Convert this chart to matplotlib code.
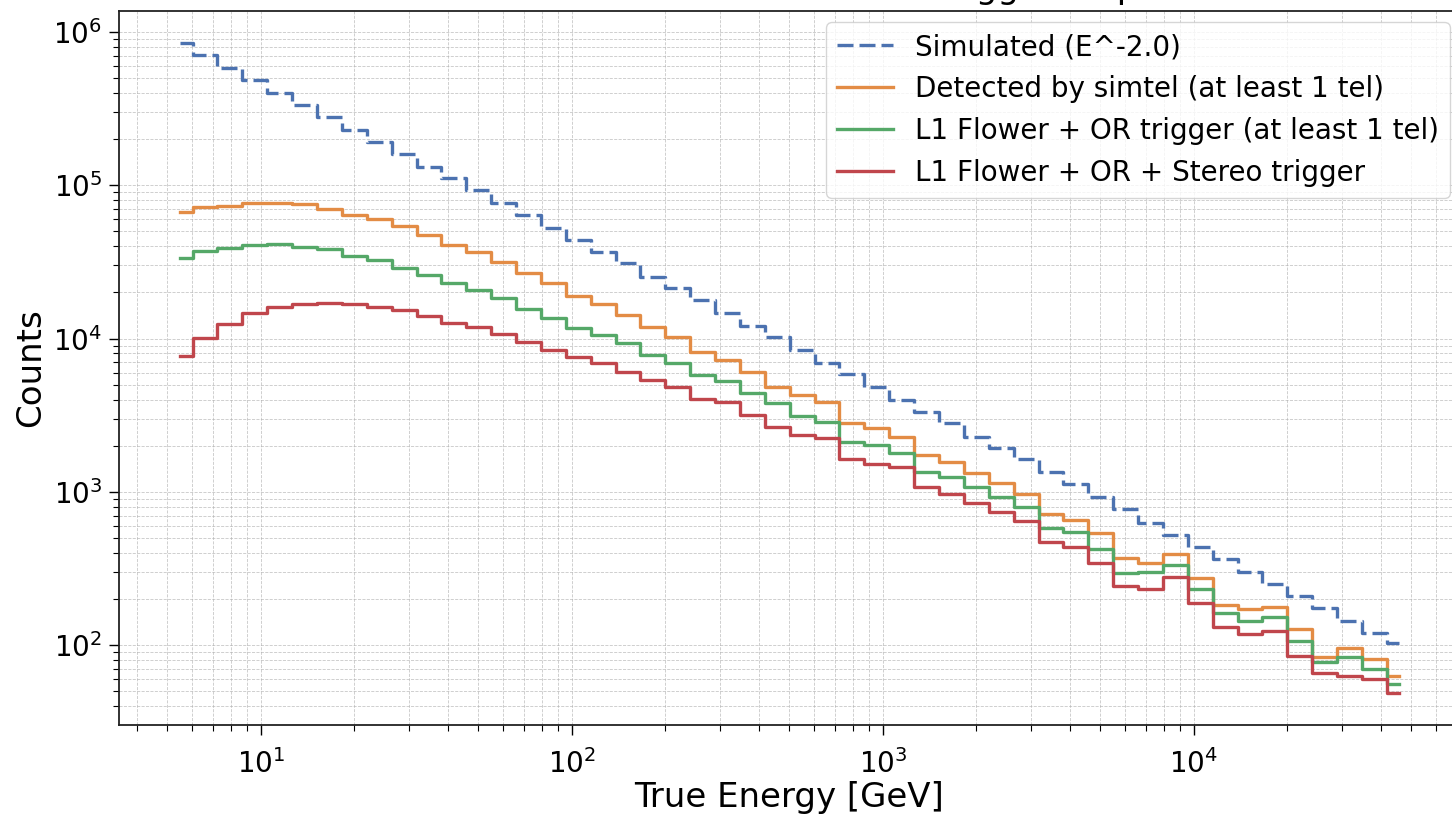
#!/usr/bin/python
# Energy distribution of the simulated events and of the events that pass
# the different trigger steps (step histogram, log-log).

import numpy as np
import matplotlib
matplotlib.use("Agg")
import matplotlib.pyplot as plt

# energy binning: 50 log bins between 5 GeV and 50 TeV
e_min, e_max, n_bins = 5.0, 5.0e4, 50

# counts per energy bin
counts_simulated = [
    844000, 708000, 580000, 486000, 402000, 334000, 280000, 229000, 192000, 161000,
    132000, 111000, 93000, 76200, 64000, 53000, 44000, 36900, 31000, 25300,
    21300, 17800, 14600, 12100, 10300, 8410, 6890, 5860, 4840, 3970,
    3330, 2820, 2290, 1920, 1630, 1350, 1120, 929, 769, 628,
    522, 434, 363, 301, 250, 209, 174, 144, 120, 103]
counts_simtel = [
    66600, 72400, 73600, 76300, 76900, 75100, 70000, 64000, 60000, 54500,
    47300, 40700, 36500, 31700, 26600, 23200, 18900, 16800, 14200, 11900,
    10200, 8200, 7240, 6070, 4850, 4280, 3870, 2800, 2600, 2270,
    1740, 1570, 1320, 1135, 966, 719, 654, 535, 368, 345,
    393, 273, 182, 171, 178, 127, 84, 96, 81, 63]
counts_l1_or = [
    33400, 37200, 38800, 40800, 41400, 39700, 38200, 34500, 32500, 29000,
    25900, 22900, 20700, 18300, 15700, 13700, 11700, 10500, 9310, 7800,
    6890, 5780, 5280, 4390, 3780, 3120, 2860, 2120, 2020, 1780,
    1350, 1250, 1080, 929, 792, 583, 549, 421, 294, 301,
    333, 234, 161, 144, 153, 107, 77, 84, 70, 56]
counts_l1_stereo = [
    7690, 10100, 12400, 14600, 16100, 16800, 17100, 16800, 16100, 15300,
    14000, 12700, 11900, 10700, 9520, 8450, 7540, 6890, 6070, 5360,
    4810, 4030, 3870, 3170, 2660, 2350, 2230, 1650, 1530, 1460,
    1070, 967, 841, 736, 643, 469, 434, 342, 243, 234,
    279, 189, 132, 119, 123, 85, 66, 63, 60, 49]

labels = ["Simulated (E^-2.0)",
          "Detected by simtel (at least 1 tel)",
          "L1 Flower + OR trigger (at least 1 tel)",
          "L1 Flower + OR + Stereo trigger"]
colors = ["#4c72b0", "#e38c45", "#55a868", "#c0464c"]
styles = ["--", "-", "-", "-"]

title = "Number of events at different trigger steps"


def main():
    edges = np.logspace(np.log10(e_min), np.log10(e_max), n_bins + 1)
    centers = np.sqrt(edges[:-1] * edges[1:])

    fig = plt.figure(figsize=(14.52, 8.15), dpi=100)
    ax = fig.add_axes([0.0817, 0.1104, 0.9236, 0.8762])

    series = [counts_simulated, counts_simtel, counts_l1_or, counts_l1_stereo]
    for counts, label, color, ls in zip(series, labels, colors, styles):
        line, = ax.step(centers, counts, where="mid", color=color, ls=ls,
                        lw=2.4, label=label)
        if ls == "--":
            line.set_dashes((4.8, 1.8))

    ax.set_xscale("log")
    ax.set_yscale("log")

    # labels and title (title sits mostly above the canvas, as in the source)
    ax.set_xlabel("True Energy [GeV]", fontsize=24.5, labelpad=2)
    ax.set_ylabel("Counts", fontsize=24.5)
    ax.set_title(title, fontsize=24.5, pad=9)

    # ticks and grid
    ax.tick_params(which="major", labelsize=20, length=7, width=1, pad=5)
    ax.tick_params(axis="x", which="major", pad=10)
    ax.tick_params(which="minor", length=4, width=0.8)
    ax.grid(True, which="both", ls="--", lw=0.6, color="#b0b0b0", alpha=0.7)
    for spine in ax.spines.values():
        spine.set_linewidth(1.3)
        spine.set_color("#222222")

    ax.legend(loc="upper right", bbox_to_anchor=(1450 / 1452, 1 - 22 / 815),
              bbox_transform=fig.transFigure, borderaxespad=0, fontsize=20)

    fig.savefig("out.png", dpi=100)


if __name__ == "__main__":
    main()
